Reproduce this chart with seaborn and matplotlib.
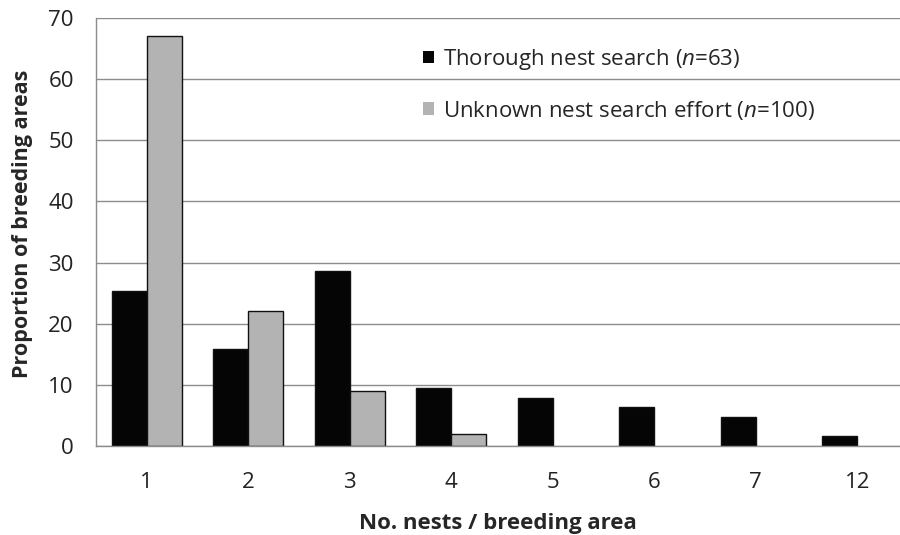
import pandas as pd
import matplotlib.pyplot as plt
import seaborn as sns

# data
nest_counts = ["1", "2", "3", "4", "5", "6", "7", "12"]
thorough = [25.4, 15.9, 28.6, 9.5, 7.9, 6.3, 4.8, 1.6]
unknown = [67, 22, 9, 2, 0, 0, 0, 0]
series_names = ["Thorough nest search ($n$=63)",
                "Unknown nest search effort ($n$=100)"]

df = pd.DataFrame({
    "nests": nest_counts * 2,
    "value": thorough + unknown,
    "series": [series_names[0]] * len(nest_counts) + [series_names[1]] * len(nest_counts),
})

sns.set_style("white")
plt.rcParams["font.family"] = ["Open Sans", "DejaVu Sans"]
plt.rcParams["mathtext.fontset"] = "custom"
plt.rcParams["mathtext.it"] = "Open Sans:italic"
plt.rcParams["mathtext.rm"] = "Open Sans"

fig = plt.figure(figsize=(9, 5.35), dpi=100)
ax = fig.add_axes([96 / 900, 1 - 446 / 535, 1 - 96 / 900, (446 - 18) / 535])

sns.barplot(data=df, x="nests", y="value", hue="series", order=nest_counts,
            palette=["#050505", "#b3b3b3"], width=0.69, gap=0,
            edgecolor="#111111", linewidth=1, ax=ax)

# no outline on the empty bars
for p in ax.patches:
    if p.get_height() == 0:
        p.set_linewidth(0)

ax.set_xlim(-0.5, 7.42)
ax.set_ylim(0, 70)
ax.set_yticks(range(0, 71, 10))
ax.grid(axis="y", color="#8c8c8c", linewidth=1)
ax.set_axisbelow(True)

for s in ["top", "right"]:
    ax.spines[s].set_visible(False)
for s in ["left", "bottom"]:
    ax.spines[s].set_color("#8c8c8c")
    ax.spines[s].set_linewidth(1)

# tick marks sit between the categories, labels in the middle
ax.set_xticks([i - 0.5 for i in range(len(nest_counts))], minor=False)
ax.set_xticklabels([])
ax.set_xticks(range(len(nest_counts)), minor=True)
ax.set_xticklabels(nest_counts, minor=True)
ax.tick_params(axis="x", which="major", length=8, color="#8c8c8c", direction="out")
ax.tick_params(axis="x", which="minor", length=0, labelsize=16, pad=19, colors="#222222")
ax.tick_params(axis="y", length=8, color="#8c8c8c", direction="out",
               labelsize=16, pad=8, colors="#222222")

ax.set_xlabel("No. nests / breeding area", fontsize=16, fontweight="bold", labelpad=14)
ax.set_ylabel("Proportion of breeding areas", fontsize=15.5, fontweight="bold")
ax.yaxis.set_label_coords(-0.078, 0.52)

handles, labels = ax.get_legend_handles_labels()
ax.legend(handles, labels, frameon=False, fontsize=16,
          loc="upper left", bbox_to_anchor=(423 / 900, 1 - 47 / 535),
          bbox_transform=fig.transFigure, borderpad=0, borderaxespad=0,
          handlelength=0.5, handleheight=0.5, handletextpad=0.4,
          labelspacing=1.2)

plt.savefig("out.png", dpi=100)
